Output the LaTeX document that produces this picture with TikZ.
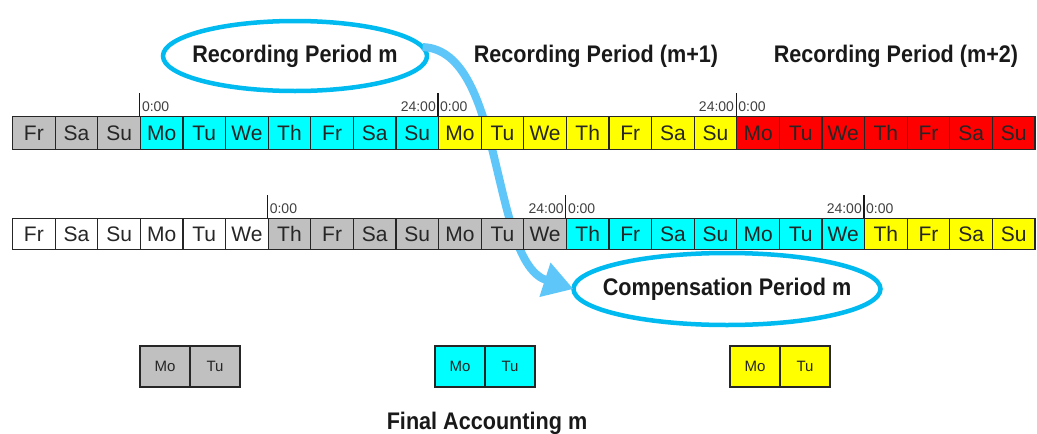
\documentclass[tikz,border=0pt]{standalone}
\usepackage{fontspec}
\setmainfont{Liberation Sans}
\newfontfamily\headfont{Liberation Sans}[FakeStretch=0.9]
\usetikzlibrary{shapes.geometric,arrows.meta,positioning,calc}
\definecolor{daygray}{RGB}{192,192,192}
\definecolor{daycyan}{RGB}{0,255,255}
\definecolor{dayyellow}{RGB}{255,255,0}
\definecolor{dayred}{RGB}{255,0,0}
\definecolor{ringblue}{RGB}{0,186,240}
\definecolor{flowblue}{RGB}{95,198,250}
\tikzset{
  day/.style={draw=black!85, line width=1.2pt, inner sep=0pt, anchor=north west,
    minimum width=42.6pt, text=black!85, font=\fontsize{21}{21}\selectfont},
  mini/.style={draw=black!85, line width=1.5pt, inner sep=0pt, outer sep=0pt,
    minimum width=50pt, minimum height=41pt, text=black!85, font=\fontsize{15}{15}\selectfont},
  tick/.style={black!90, line width=1.2pt},
  clock/.style={inner sep=0pt, text=black!75, font=\fontsize{14}{14}\selectfont},
  head/.style={inner sep=0pt, text=black!90, font=\headfont\bfseries\fontsize{24}{24}\selectfont},
  ring/.style={ellipse, draw=ringblue, line width=4.5pt, inner sep=0pt, outer sep=0pt},
  flow/.style={flowblue, line width=8pt, -{Triangle[length=30pt,width=34pt]}}
}
\begin{document}
\begin{tikzpicture}[x=1pt,y=-1pt]
\useasboundingbox (0,0) rectangle (1037,434);
\clip (0,0) rectangle (1037,434);

\node[ring, minimum width=264pt, minimum height=70pt,
  label={[head]center:Recording Period m}] (rec) at (295,56) {};
\node[ring, minimum width=307pt, minimum height=72pt,
  label={[head]center:Compensation Period m}] (comp) at (727,289) {};
\node[head, anchor=base] (rec1) at (596,62) {Recording Period (m+1)};
\node[head, anchor=base] (rec2) at (896,62) {Recording Period (m+2)};

\draw[flow] (rec.4) .. controls (505,50) and (490,262) .. (comp.west);

% recording weeks
\foreach \d/\c [count=\i from 0] in {Fr/daygray,Sa/daygray,Su/daygray,
  Mo/daycyan,Tu/daycyan,We/daycyan,Th/daycyan,Fr/daycyan,Sa/daycyan,Su/daycyan,
  Mo/dayyellow,Tu/dayyellow,We/dayyellow,Th/dayyellow,Fr/dayyellow,Sa/dayyellow,Su/dayyellow,
  Mo/dayred,Tu/dayred,We/dayred,Th/dayred,Fr/dayred,Sa/dayred,Su/dayred}
  \node[day, fill=\c, minimum height=33pt] (t\i) at ({12+42.6*\i},116) {\d};

% compensation weeks
\foreach \d/\c [count=\i from 0] in {Fr/white,Sa/white,Su/white,Mo/white,Tu/white,We/white,
  Th/daygray,Fr/daygray,Sa/daygray,Su/daygray,Mo/daygray,Tu/daygray,We/daygray,
  Th/daycyan,Fr/daycyan,Sa/daycyan,Su/daycyan,Mo/daycyan,Tu/daycyan,We/daycyan,
  Th/dayyellow,Fr/dayyellow,Sa/dayyellow,Su/dayyellow}
  \node[day, fill=\c, minimum height=31pt] (b\i) at ({12+42.6*\i},218) {\d};

\foreach \r/\k in {t/3,t/10,t/17,b/6,b/13,b/20} {
  \draw[tick] (\r\k.north west) -- ++(0,-23);
  \node[clock, anchor=base west] (\r z\k) at ($(\r\k.north west)+(2,-5)$) {0:00};
}
\foreach \r/\k in {t/10,t/17,b/13,b/20}
  \node[clock, anchor=base east] (\r e\k) at ($(\r\k.north west)+(-2,-5)$) {24:00};

\node[mini, fill=daygray, anchor=north west] (fm1) at (140,346) {Mo};
\node[mini, fill=daygray, right=0pt of fm1] (ft1) {Tu};
\node[mini, fill=daycyan, anchor=north west] (fm2) at (435,346) {Mo};
\node[mini, fill=daycyan, right=0pt of fm2] (ft2) {Tu};
\node[mini, fill=dayyellow, anchor=north west] (fm3) at (730,346) {Mo};
\node[mini, fill=dayyellow, right=0pt of fm3] (ft3) {Tu};

\node[head, anchor=base] (final) at (487,429) {Final Accounting m};
\end{tikzpicture}
\end{document}
